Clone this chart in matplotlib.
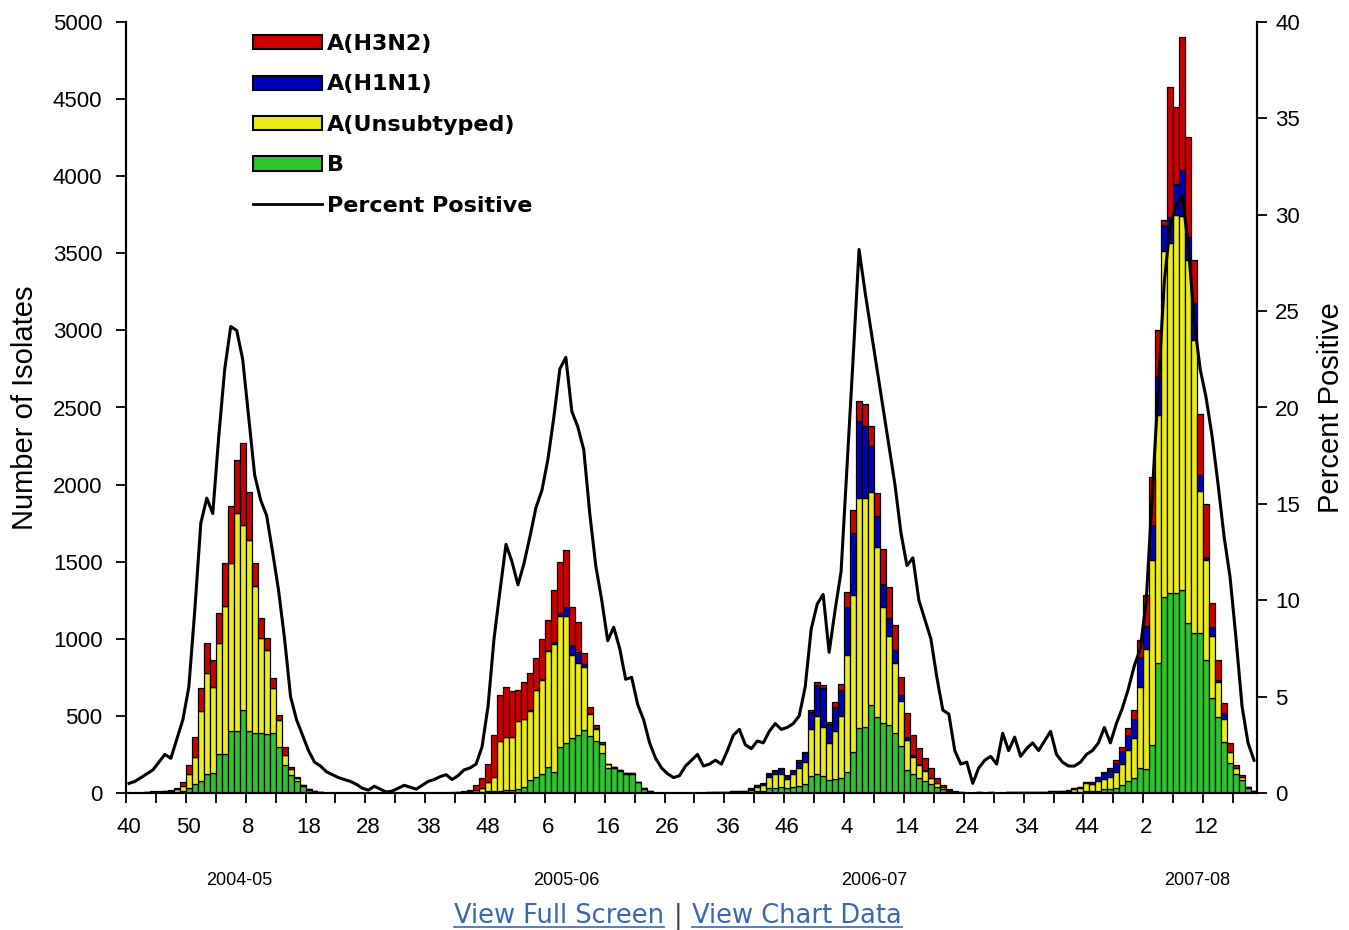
import numpy as np
import matplotlib
matplotlib.use("Agg")
import matplotlib.pyplot as plt
from matplotlib.patches import Patch
from matplotlib.lines import Line2D

plt.rcParams['font.family'] = ['Liberation Sans', 'DejaVu Sans']

# weekly data, week 40 of 2004 through week 20 of 2008 (189 weeks)
h3n2 = [
    # 2004-05
    0, 0, 0, 0, 2, 3, 4, 5, 10, 25, 60, 130, 150, 195, 175, 200, 280, 370, 345, 530,
    313, 150, 130, 80, 65, 30, 54, 15, 5, 0, 0, 0, 0, 0, 0, 0, 0, 0, 0, 0,
    0, 0, 0, 0, 0, 0, 0, 0, 0, 0, 0, 0,
    # 2005-06
    0, 0, 2, 3, 5, 10, 30, 60, 120, 270, 300, 330, 300, 200, 240, 235, 205, 260, 190, 335,
    330, 370, 250, 195, 70, 40, 20, 15, 5, 0, 0, 0, 0, 0, 0, 0, 0, 0, 0, 0,
    0, 0, 0, 0, 0, 0, 0, 0, 0, 0, 0, 0,
    # 2006-07
    0, 2, 3, 5, 5, 5, 5, 5, 10, 10, 15, 20, 20, 15, 30, 40, 97, 150, 130, 140,
    130, 150, 227, 200, 162, 120, 150, 130, 100, 80, 60, 35, 15, 5, 2, 0, 0, 0, 0, 0,
    0, 0, 0, 0, 0, 0, 0, 0, 0, 0, 0, 0,
    # 2007-08
    0, 0, 0, 0, 0, 0, 5, 10, 10, 20, 30, 40, 60, 108, 200, 313, 300, 30, 843, 500,
    863, 650, 280, 400, 346, 150, 130, 60, 54, 20, 10, 0, 0,
]
h1n1 = [
    0] * 52 + [
    0, 0, 0, 0, 0, 0, 0, 0, 0, 0, 0, 0, 0, 0, 0, 5, 5, 10, 10, 15,
    20, 60, 60, 75, 20, 10, 5, 0, 0, 0, 0, 0, 0, 0, 0, 0, 0, 0, 0, 0,
    0, 0, 0, 0, 0, 1, 1, 1, 2, 2, 3, 4,
    10, 10, 10, 20, 25, 30, 20, 25, 40, 60, 110, 200, 250, 120, 160, 170, 313, 400, 497, 470,
    300, 200, 150, 120, 86, 40, 20, 10, 10, 5, 2, 0, 0, 0, 0, 0, 0, 0, 0, 0,
    0, 0, 0, 0, 0, 0, 1, 1, 2, 2, 3, 3,
    4, 5, 5, 5, 10, 15, 25, 35, 45, 60, 80, 100, 120, 194, 150, 227, 250, 170, 168, 200,
    300, 150, 240, 100, 20, 60, 10, 40, 0, 0, 0, 0, 0,
]
unsub = [
    0, 0, 2, 3, 5, 5, 8, 10, 18, 35, 90, 175, 450, 650, 560, 720, 960, 1090, 1415, 1200,
    1240, 950, 615, 540, 292, 175, 65, 40, 20, 10, 5, 2, 1, 0, 0, 0, 0, 0, 0, 0,
    0, 0, 0, 0, 0, 0, 0, 0, 0, 0, 0, 0,
    2, 3, 3, 5, 5, 10, 15, 30, 60, 95, 320, 340, 340, 440, 440, 450, 560, 605, 750, 830,
    850, 820, 540, 465, 405, 140, 80, 60, 20, 10, 5, 5, 3, 3, 2, 1, 0, 0, 0, 0,
    0, 0, 0, 0, 2, 2, 3, 3, 4, 5, 6, 8,
    15, 30, 35, 70, 85, 85, 60, 80, 120, 140, 305, 380, 320, 240, 310, 400, 757, 1020, 1490, 1480,
    1380, 1100, 757, 577, 454, 290, 195, 110, 80, 65, 40, 25, 15, 8, 3, 2, 2, 2, 3, 2,
    3, 2, 2, 3, 3, 4, 4, 5, 4, 5, 6, 6,
    8, 10, 20, 30, 50, 45, 60, 70, 80, 100, 140, 200, 260, 529, 780, 1199, 1610, 2245, 2267, 2450,
    2424, 2356, 1900, 925, 650, 400, 228, 150, 76, 40, 20, 6, 2,
]
flu_b = [
    0, 0, 0, 2, 3, 2, 3, 5, 7, 12, 32, 60, 80, 125, 127, 250, 250, 400, 400, 540,
    400, 390, 390, 385, 388, 300, 180, 115, 80, 45, 20, 10, 5, 2, 0, 0, 0, 0, 0, 0,
    0, 0, 0, 0, 0, 0, 0, 0, 0, 0, 0, 0,
    0, 0, 0, 0, 2, 2, 5, 5, 10, 10, 15, 20, 20, 28, 40, 85, 105, 125, 170, 135,
    300, 325, 357, 375, 410, 370, 335, 258, 165, 160, 145, 122, 124, 70, 28, 9, 0, 0, 0, 0,
    0, 0, 0, 0, 1, 1, 1, 2, 2, 3, 3, 4,
    5, 10, 15, 32, 35, 40, 32, 40, 44, 58, 110, 120, 110, 85, 90, 100, 138, 264, 423, 430,
    570, 495, 451, 440, 387, 304, 151, 126, 100, 80, 58, 40, 25, 12, 5, 2, 1, 1, 1, 1,
    1, 1, 1, 1, 1, 1, 2, 2, 2, 2, 2, 3,
    3, 5, 5, 5, 13, 13, 16, 23, 25, 34, 50, 79, 98, 160, 153, 311, 840, 1271, 1300, 1300,
    1316, 1100, 1037, 1035, 861, 619, 494, 331, 192, 121, 87, 35, 8,
]
pct_pos = [
    0.5, 0.6, 0.8, 1.0, 1.2, 1.6, 2.0, 1.8, 2.8, 3.8, 5.5, 9.5, 14.0, 15.3, 14.5, 18.5, 22.0, 24.2, 24.0, 22.5,
    19.5, 16.5, 15.2, 14.4, 12.5, 10.5, 8.0, 5.0, 3.8, 3.0, 2.2, 1.6, 1.4, 1.1, 0.95, 0.8, 0.7, 0.6, 0.45, 0.25,
    0.15, 0.35, 0.2, 0.05, 0.1, 0.25, 0.4, 0.3, 0.2, 0.4, 0.6, 0.7,
    0.85, 0.95, 0.7, 0.9, 1.2, 1.3, 1.5, 2.4, 4.5, 8.0, 10.5, 12.9, 12.0, 10.8, 11.9, 13.3, 14.8, 15.7, 17.3, 19.5,
    22.0, 22.6, 19.8, 19.0, 17.8, 14.5, 11.8, 10.0, 7.9, 8.6, 7.5, 5.9, 6.0, 4.6, 3.8, 2.6, 1.8, 1.3, 1.0, 0.8,
    0.9, 1.4, 1.7, 2.0, 1.4, 1.5, 1.7, 1.5, 2.2, 3.0, 3.3, 2.5,
    2.3, 2.7, 2.6, 3.2, 3.6, 3.3, 3.4, 3.6, 4.0, 5.5, 8.5, 9.8, 10.3, 7.3, 9.5, 11.5, 17.0, 22.5, 28.2, 26.0,
    24.0, 22.0, 20.0, 18.0, 16.0, 13.5, 11.8, 12.2, 10.0, 9.0, 8.0, 6.0, 4.3, 4.1, 2.2, 1.5, 1.6, 0.5, 1.3, 1.7,
    1.9, 1.5, 3.1, 2.2, 2.9, 1.9, 2.3, 2.6, 2.2, 2.7, 3.2, 2.0,
    1.6, 1.4, 1.4, 1.6, 2.0, 2.2, 2.6, 3.4, 2.6, 3.6, 4.4, 5.4, 6.6, 7.5, 10.0, 15.5, 21.0, 26.5, 29.5, 30.5,
    31.0, 28.5, 24.5, 22.0, 20.5, 18.5, 16.0, 13.3, 11.2, 8.0, 4.5, 2.6, 1.7,
]
week_labels = ['40', '50', '8', '18', '28', '38', '48', '6', '16', '26',
               '36', '46', '4', '14', '24', '34', '44', '2', '12']
seasons = ['2004-05', '2005-06', '2006-07', '2007-08']
season_pos = [18.5, 73, 124.5, 178.5]

names = ['A(H3N2)', 'A(H1N1)', 'A(Unsubtyped)', 'B']
colors = ['#cc0000', '#0000bb', '#ecec1c', '#2ec42e']

x = np.arange(len(pct_pos))
W, H = 1349, 930
fig = plt.figure(figsize=(W / 100, H / 100), dpi=100)
ax = fig.add_axes([126 / W, 1 - 793 / H, (1257 - 126) / W, (793 - 22) / H])

bottom = np.zeros(len(x))
for vals, col in zip([flu_b, unsub, h1n1, h3n2], colors[::-1]):
    ax.bar(x, vals, width=1.0, bottom=bottom, color=col, edgecolor='black', linewidth=0.9)
    bottom += np.array(vals)

ax.set_xlim(-0.5, len(x) - 0.5)
ax.set_ylim(0, 5000)
ax.set_yticks(np.arange(0, 5001, 500))
ax.set_xticks(np.arange(0, len(week_labels) * 10, 10))
ax.set_xticklabels(week_labels)
ax.set_xticks(np.arange(-0.5, len(x), 5), minor=True)
ax.tick_params(axis='x', which='major', length=0, pad=17, labelsize=16)
ax.tick_params(axis='x', which='minor', length=7, width=1.3, direction='out')
ax.tick_params(axis='y', length=7, width=1.3, labelsize=16, pad=10)
ax.set_ylabel('Number of Isolates', fontsize=21, labelpad=10)

ax2 = ax.twinx()
ax2.plot(x, pct_pos, color='black', lw=2.2)
ax2.set_ylim(0, 40)
ax2.set_yticks(np.arange(0, 41, 5))
ax2.tick_params(axis='y', length=7, width=1.3, labelsize=16, pad=6)
ax2.set_ylabel('Percent Positive', fontsize=21, labelpad=12)

for a in (ax, ax2):
    a.spines['top'].set_visible(False)
    for s in ('left', 'right', 'bottom'):
        a.spines[s].set_linewidth(1.5)

for lab, p in zip(seasons, season_pos):
    ax.text(p, -0.114, lab, transform=ax.get_xaxis_transform(), ha='center',
            va='center', fontsize=13)

handles = [Patch(facecolor=c, edgecolor='black', linewidth=1.5) for c in colors]
handles.append(Line2D([], [], color='black', lw=2))
leg = ax2.legend(handles, names + ['Percent Positive'], loc='upper left',
                 bbox_to_anchor=(253 / W, 1 - 34 / H), bbox_transform=fig.transFigure,
                 frameon=False, handlelength=3.1, handleheight=0.6, handletextpad=0.22,
                 labelspacing=0.92, borderpad=0, borderaxespad=0,
                 prop={'family': 'DejaVu Sans', 'weight': 'bold', 'size': 16})

# links under the chart
link_col = '#3a69b3'
t1 = fig.text(664 / W, 1 - 916 / H, 'View Full Screen', ha='right', va='center',
              fontsize=18.5, color=link_col, family='DejaVu Sans')
fig.text(678 / W, 1 - 916 / H, '|', ha='center', va='center', fontsize=18.5,
         color='#444444', family='DejaVu Sans')
t2 = fig.text(692 / W, 1 - 916 / H, 'View Chart Data', ha='left', va='center',
              fontsize=18.5, color=link_col, family='DejaVu Sans')
fig.canvas.draw()
for t in (t1, t2):
    bb = t.get_window_extent().transformed(fig.transFigure.inverted())
    fig.add_artist(Line2D([bb.x0, bb.x1], [bb.y0 + 0.002, bb.y0 + 0.002],
                          transform=fig.transFigure, color=link_col, lw=1.2))

fig.savefig('out.png', dpi=100)
